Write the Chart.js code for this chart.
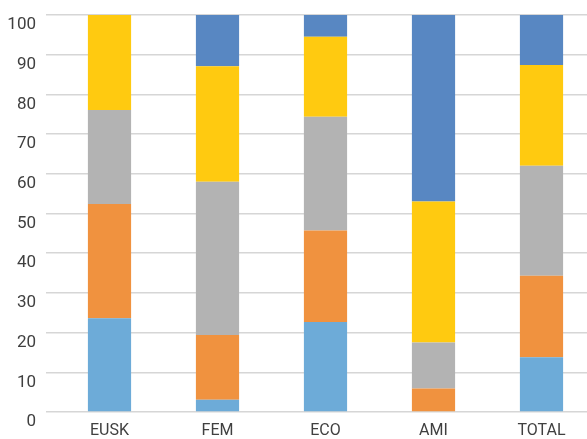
<!DOCTYPE html>
<html>
<head>
<meta charset="utf-8">
<script src="https://cdn.jsdelivr.net/npm/chart.js@4/dist/chart.umd.min.js"></script>
<style>
  html, body { margin: 0; padding: 0; background: #fff; }
  #wrap { width: 587px; height: 439px; position: relative; }
</style>
</head>
<body>
<div id="wrap"><canvas id="chart"></canvas></div>
<script>
const CATEGORIES = ['EUSK', 'FEM', 'ECO', 'AMI', 'TOTAL'];

// stacked shares per category, bottom segment first
const SERIES_1 = [23.6, 3.1, 22.7, 0, 13.8];
const SERIES_2 = [28.8, 16.3, 23.0, 5.9, 20.5];
const SERIES_3 = [23.7, 38.6, 28.7, 11.6, 27.7];
const SERIES_4 = [23.9, 29.1, 20.1, 35.5, 25.4];
const SERIES_5 = [0, 12.9, 5.5, 47.0, 12.6];

const COLORS = ['#6dabd8', '#f0923f', '#b3b3b3', '#ffca10', '#5887c2'];

const FONT = "'Roboto', sans-serif";
const OVERHANG = 8.5; // the plot runs a little past the right edge, as in the original

const seriesList = [SERIES_1, SERIES_2, SERIES_3, SERIES_4, SERIES_5];

const datasets = seriesList.map((values, i) => ({
  label: 'S' + (i + 1),
  data: values,
  backgroundColor: COLORS[i],
  borderWidth: 0,
  barPercentage: 0.4,
  categoryPercentage: 1,
}));

// stretch the category axis past the canvas edge after layout
const overhangPlugin = {
  id: 'overhang',
  afterLayout(chart) {
    const x = chart.scales.x;
    x.right += OVERHANG;
    x.width += OVERHANG;
    x.configure();
    chart.chartArea.right += OVERHANG;
    chart.chartArea.width += OVERHANG;
  },
};

new Chart(document.getElementById('chart').getContext('2d'), {
  type: 'bar',
  data: { labels: CATEGORIES, datasets },
  plugins: [overhangPlugin],
  options: {
    responsive: true,
    maintainAspectRatio: false,
    animation: false,
    layout: { padding: { top: 15, right: 0, left: 0, bottom: 0 } },
    plugins: {
      legend: { display: false },
      tooltip: { enabled: false },
    },
    scales: {
      x: {
        stacked: true,
        grid: { display: false, drawTicks: false },
        border: { display: false },
        ticks: {
          color: '#404040',
          font: { family: FONT, size: 16 },
          padding: 9,
        },
        afterFit(scale) {
          scale.height = 27;
          scale.paddingLeft = 0;
          scale.paddingRight = 0;
        },
      },
      y: {
        stacked: true,
        min: 0,
        max: 100,
        grid: { color: '#d6d6d6', lineWidth: 1.5, drawTicks: true, tickLength: 9.5 },
        border: { display: false },
        ticks: {
          stepSize: 10,
          color: '#404040',
          font: { family: FONT, size: 17 },
          padding: 10,
          labelOffset: 10,
        },
        afterFit(scale) {
          scale.width = 55.5;
          scale.paddingTop = 0;
          scale.paddingBottom = 0;
        },
      },
    },
  },
});
</script>
</body>
</html>
